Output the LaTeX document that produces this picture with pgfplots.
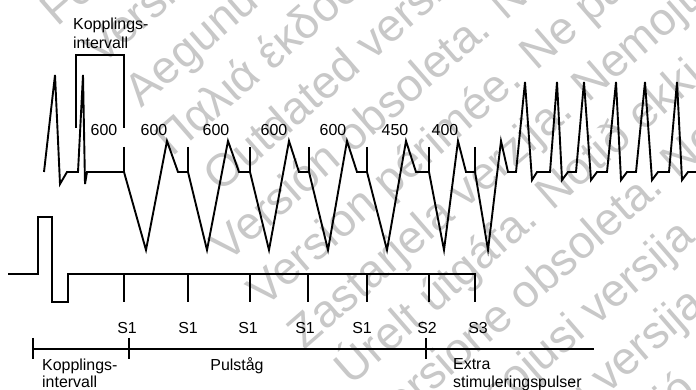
\documentclass[border=0pt]{standalone}
\usepackage{pgfplots}
\pgfplotsset{compat=1.18}
\usepackage{fontspec}
\setmainfont{Liberation Sans}
\definecolor{wm}{RGB}{200,200,200}
\newcommand{\fs}{\fontsize{16}{19}\selectfont}
\newcommand{\wmf}{\fontsize{46}{50}\selectfont}
\pgfplotsset{ln/.style={black, line width=1.9bp, mark=none},
  thin/.style={black, line width=1.2bp, mark=none}}
\begin{document}
\begin{tikzpicture}
\begin{axis}[
  set layers,
  scale only axis, width=696bp, height=390bp,
  xmin=0, xmax=696, ymin=0, ymax=390, y dir=reverse,
  hide axis, clip=false,
]
\coordinate (BL) at (axis cs:0,390);
\coordinate (TR) at (axis cs:696,0);
\begin{pgfonlayer}{axis background}
\fill[white] (axis cs:0,0) rectangle (axis cs:696,390);
\begin{scope}[every node/.style={anchor=base west, rotate=41, inner sep=0pt, text=wm, font=\wmf}]
\node at (axis cs:15.3,-12.9) {Zastaralá verze. Nepoužívat.};
\node at (axis cs:57.2,27.7) {Forældet version. Må ikke anvendes.};
\node at (axis cs:101.4,66.4) {Version überholt. Nicht verwenden.};
\node at (axis cs:141.7,108.2) {Aegunud versioon. Ärge kasutage.};
\node at (axis cs:172.8,157.8) {Παλιά έκδοση. Μην την χρησιμοποιείτε.};
\node at (axis cs:220.1,193.8) {Outdated version. Do not use.};
\node at (axis cs:227.5,263.4) {Versión obsoleta. No utilizar.};
\node at (axis cs:264.1,308.4) {Version périmée. Ne pas utiliser.};
\node at (axis cs:304.4,350.3) {Zastarjela verzija. Nemojte upotrebljavati.};
\node at (axis cs:351.6,386.4) {Úrelt útgáfa. Notið ekki.};
\node at (axis cs:380.5,437.9) {Versione obsoleta. Non utilizzare.};
\node at (axis cs:417.8,482.3) {Novecojusi versija. Neizmantot.};
\node at (axis cs:455.1,526.7) {Pasenusi versija. Nenaudokite.};
\node at (axis cs:492.4,571.2) {Elavult verzió. Ne használja!};
\end{scope}
\end{pgfonlayer}

% upper trace
\addplot[ln] coordinates {(44,172)(55,75)(60,184)(67,172)(78,172)(83,75)(85,184)(87,172)(124,172)
(146,250)(167,141)(178,172)(188,172)(207,250)(228,141)(239,172)(250,172)
(269,250)(289,141)(299,172)(309,172)(328,250)(347,141)(357,172)(367,172)
(387,250)(406,141)(416,172)(429,172)(444,250)(458,141)(466,172)(475,172)
(488,250)(501,141)(508,172)(516,172)(525,82)(532,180)(537,172)(550,172)
(557,82)(562,180)(568,172)(576,172)(584,82)(591,180)(597,172)(607,172)
(616,82)(621,180)(627,172)(636,172)(645,82)(652,180)(658,172)(669,172)
(677,82)(682,180)(688,172)(696,172)};
% pacing spikes
\addplot[ln] coordinates {(124,147)(124,172)};
\addplot[ln] coordinates {(188,147)(188,172)};
\addplot[ln] coordinates {(250,147)(250,172)};
\addplot[ln] coordinates {(309,147)(309,172)};
\addplot[ln] coordinates {(367,147)(367,172)};
\addplot[ln] coordinates {(429,147)(429,172)};
\addplot[ln] coordinates {(475,147)(475,172)};
% bracket
\addplot[ln, line width=1.6bp] coordinates {(76,128)(76,55)(124,55)(124,128)};
% lower trace
\addplot[ln] coordinates {(8,274)(38,274)(38,217)(52,217)(52,302)(68,302)(68,274)(475,274)(475,302)};
\addplot[ln] coordinates {(124,274)(124,302)};
\addplot[ln] coordinates {(188,274)(188,302)};
\addplot[ln] coordinates {(250,274)(250,302)};
\addplot[ln] coordinates {(308,274)(308,302)};
\addplot[ln] coordinates {(367,274)(367,302)};
\addplot[ln] coordinates {(429,274)(429,302)};
% timeline
\addplot[thin] coordinates {(33,349)(594,349)};
\addplot[thin] coordinates {(33,338)(33,359)};
\addplot[thin] coordinates {(129,338)(129,359)};
\addplot[thin] coordinates {(426,338)(426,359)};

\begin{scope}[every node/.style={inner sep=0pt, font=\fs}]
\node[anchor=base west] at (axis cs:73,29) {Kopplings-};
\node[anchor=base west] at (axis cs:73,48) {intervall};
\node[anchor=base] at (axis cs:104,135) {600};
\node[anchor=base] at (axis cs:154,135) {600};
\node[anchor=base] at (axis cs:216,135) {600};
\node[anchor=base] at (axis cs:274,135) {600};
\node[anchor=base] at (axis cs:333,135) {600};
\node[anchor=base] at (axis cs:395,135) {450};
\node[anchor=base] at (axis cs:445,135) {400};
\node[anchor=base] at (axis cs:127,333) {S1};
\node[anchor=base] at (axis cs:188,333) {S1};
\node[anchor=base] at (axis cs:248,333) {S1};
\node[anchor=base] at (axis cs:305,333) {S1};
\node[anchor=base] at (axis cs:362,333) {S1};
\node[anchor=base] at (axis cs:427,333) {S2};
\node[anchor=base] at (axis cs:478,333) {S3};
\node[anchor=base west] at (axis cs:42,370) {Kopplings-};
\node[anchor=base west] at (axis cs:42,387) {intervall};
\node[anchor=base] at (axis cs:237,370) {Pulståg};
\node[anchor=base west] at (axis cs:453,369) {Extra};
\node[anchor=base west] at (axis cs:453,387) {stimuleringspulser};
\end{scope}
\end{axis}
\pgfresetboundingbox
\path[use as bounding box] (BL) rectangle (TR);
\end{tikzpicture}
\end{document}
